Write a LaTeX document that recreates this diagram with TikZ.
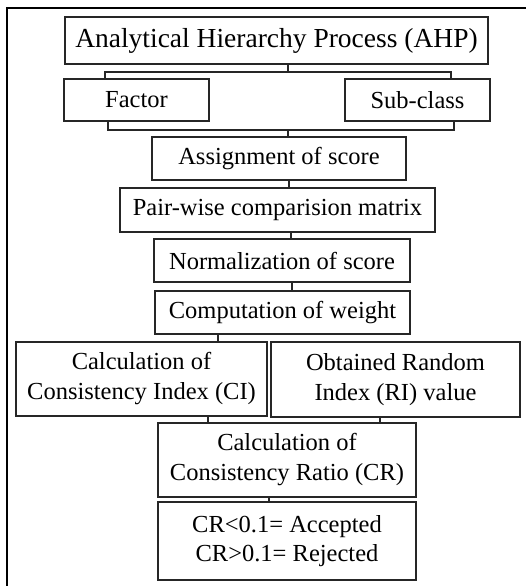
\documentclass[tikz,border=0pt]{standalone}
\usepackage{fontspec}
\setmainfont{Liberation Serif}
\begin{document}
\begin{tikzpicture}[x=1pt,y=-1pt,
  box/.style={draw=black!85, line width=1.1pt, inner sep=0pt, align=center,
    text=black, font=\fontsize{24.5}{30}\selectfont},
  link/.style={draw=black!85, line width=1.1pt},
  frame/.style={draw=black, line width=2.2pt}]
\useasboundingbox (0,0) rectangle (526,586);
\draw[frame] (7,586) -- (7,8) -- (526,8);

\node[box, minimum width=423pt, minimum height=47pt, font=\fontsize{27.5}{32}\selectfont] (ahp) at (276.5,40.5) {Analytical Hierarchy Process (AHP)};
\node[box, minimum width=145pt, minimum height=42pt] (fac) at (136.5,100) {Factor};
\node[box, minimum width=145pt, minimum height=42pt] (sub) at (417.5,100) {Sub-class};
\node[box, minimum width=254pt, minimum height=43pt] (asg) at (279,158.5) {Assignment of score};
\node[box, minimum width=315pt, minimum height=44pt] (pair) at (277.5,210) {Pair-wise comparision matrix};
\node[box, minimum width=256pt, minimum height=43pt] (norm) at (282,260.5) {Normalization of score};
\node[box, minimum width=255pt, minimum height=43pt] (comp) at (282.5,312.5) {Computation of weight};
\node[box, minimum width=251pt, minimum height=74pt] (ci) at (141.5,379) {Calculation of\\Consistency Index (CI)};
\node[box, minimum width=249pt, minimum height=75pt] (ri) at (395.5,379.5) {Obtained Random\\Index (RI) value};
\node[box, minimum width=258pt, minimum height=74pt] (cr) at (287,460) {Calculation of\\Consistency Ratio (CR)};
\node[box, minimum width=258pt, minimum height=78pt, font=\fontsize{24.5}{28.5}\selectfont] (acc) at (287,541) {CR<0.1= Accepted\\CR>0.1= Rejected};

\coordinate (t1) at (288,72);
\coordinate (tl) at (105,72);
\coordinate (tr) at (451,72);
\coordinate (b1) at (288,130);
\coordinate (bl) at (108,130);
\coordinate (br) at (454,130);
\draw[link] (ahp.south -| t1) -- (t1);
\draw[link] (fac.north -| tl) -- (tl) -- (tr) -- (sub.north -| tr);
\draw[link] (fac.south -| bl) -- (bl) -- (br) -- (sub.south -| br);
\draw[link] (b1) -- (asg.north -| b1);

\coordinate (x1) at (289,0);
\coordinate (x2) at (291,0);
\coordinate (x3) at (292,0);
\coordinate (x4) at (218,0);
\coordinate (x5) at (208,0);
\coordinate (x6) at (380,0);
\coordinate (x7) at (269,0);
\draw[link] (asg.south -| x1) -- (pair.north -| x1);
\draw[link] (pair.south -| x2) -- (norm.north -| x2);
\draw[link] (norm.south -| x3) -- (comp.north -| x3);
\draw[link] (comp.south -| x4) -- (ci.north -| x4);
\draw[link] (ci.south -| x5) -- (cr.north -| x5);
\draw[link] (ri.south -| x6) -- (cr.north -| x6);
\draw[link] (cr.south -| x7) -- (acc.north -| x7);
\end{tikzpicture}
\end{document}
